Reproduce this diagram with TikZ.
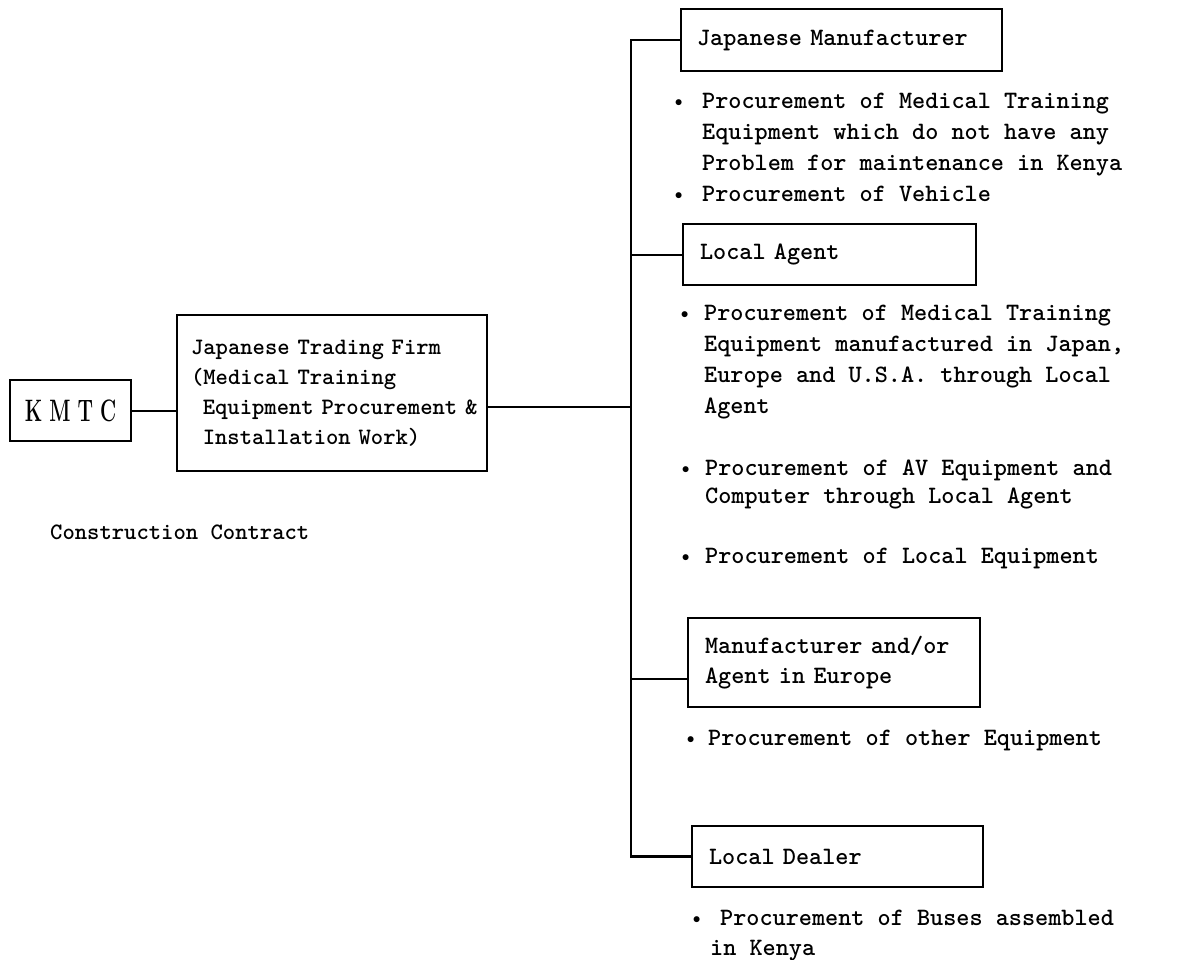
\documentclass[tikz,border=0pt]{standalone}
\usepackage{graphicx}
% small round bullet hung to the left of a line, #1 = gap to the text
\newcommand\bul[1][17pt]{\llap{\raisebox{1.8pt}{\scalebox{0.62}{$\bullet$}}\hspace{#1}}}
% fixes the height of the first line of a text block
\newcommand\lnstrut{\rule{0pt}{22pt}}
\tikzset{
  txt/.style={font=\ttfamily\bfseries\fontsize{25}{30}\selectfont},
  smalltxt/.style={font=\ttfamily\bfseries\fontsize{23.5}{30}\selectfont},
  unitbox/.style={draw, line width=2.2pt, rectangle, align=left, inner ysep=0pt, txt},
  note/.style={anchor=north west, inner sep=0pt, align=left,
    font=\ttfamily\bfseries\fontsize{25}{31}\selectfont},
  link/.style={line width=2pt},
}
\begin{document}
\begin{tikzpicture}[x=1pt,y=-1pt]
\useasboundingbox (0,0) rectangle (1178,959);

% client and contractor
\node[draw, line width=2.2pt, minimum width=121pt, minimum height=61pt, inner sep=0pt]
  (kmtc) at (70.5,410.5)
  {\scalebox{0.64}[1]{\fontsize{31}{31}\selectfont\bfseries K\hspace{11pt}M\hspace{11pt}T\hspace{11pt}C}};
\node[unitbox, smalltxt, text width=282pt, inner xsep=14pt, minimum height=156pt]
  (firm) at (332,393)
  {Japanese Trading Firm\\(Medical Training\\\hspace*{0.5em}\mbox{Equipment Procurement \&}\\\hspace*{0.5em}Installation Work)};
\node[smalltxt, anchor=west, inner sep=0pt] (contract) at (50,532) {Construction Contract};

% suppliers
\node[unitbox, text width=289pt, inner xsep=16pt, minimum height=62pt]
  (jm) at (841.5,40) {\raisebox{-2pt}{Japanese Manufacturer}};
\node[unitbox, text width=259pt, inner xsep=17pt, minimum height=61pt]
  (la) at (829.5,254.5) {Local Agent};
\node[unitbox, text width=258pt, inner xsep=17pt, minimum height=89pt]
  (eu) at (834,662.5) {Manufacturer and/or\\Agent in Europe};
\node[unitbox, text width=257pt, inner xsep=17pt, minimum height=61pt]
  (ld) at (837.5,856.5) {Local Dealer};

% scopes of supply
\node[note] (jmnote) at (702,86)
  {\lnstrut\bul[19.5pt]Procurement of Medical Training\\Equipment which do not have any\\Problem for maintenance in Kenya\\\bul[19.5pt]Procurement of Vehicle};
\node[note] (lanote1) at (704,298)
  {\lnstrut\bul[15.5pt]Procurement of Medical Training\\Equipment manufactured in Japan,\\Europe and U.S.A. through Local\\Agent};
\node[note, font=\ttfamily\bfseries\fontsize{25}{28}\selectfont] (lanote2) at (705,453)
  {\lnstrut\bul[15.5pt]Procurement of AV Equipment and\\Computer through Local Agent};
\node[note] (lanote3) at (705,541)
  {\lnstrut\bul[15.5pt]Procurement of Local Equipment};
\node[note] (eunote) at (708,723)
  {\lnstrut\bul[13.5pt]Procurement of other Equipment};
\node[note, font=\ttfamily\bfseries\fontsize{25}{30}\selectfont] (ldnote) at (710,903)
  {\lnstrut\hspace*{10pt}\bul[19.5pt]Procurement of Buses assembled\\in Kenya};

% connections
\coordinate (bus) at (631,0);
\draw[link] (kmtc.east) -- (kmtc.east -| firm.west);
\draw[link] ([yshift=-14pt]firm.east) -- ([yshift=-14pt]firm.east -| bus);
\draw[line width=2.6pt] (jm.west) -- (jm.west -| bus) -- (ld.west -| bus) -- (ld.west);
\draw[link] (la.west) -- (la.west -| bus);
\draw[link] ([yshift=-16.5pt]eu.west) -- ([yshift=-16.5pt]eu.west -| bus);
\end{tikzpicture}
\end{document}
